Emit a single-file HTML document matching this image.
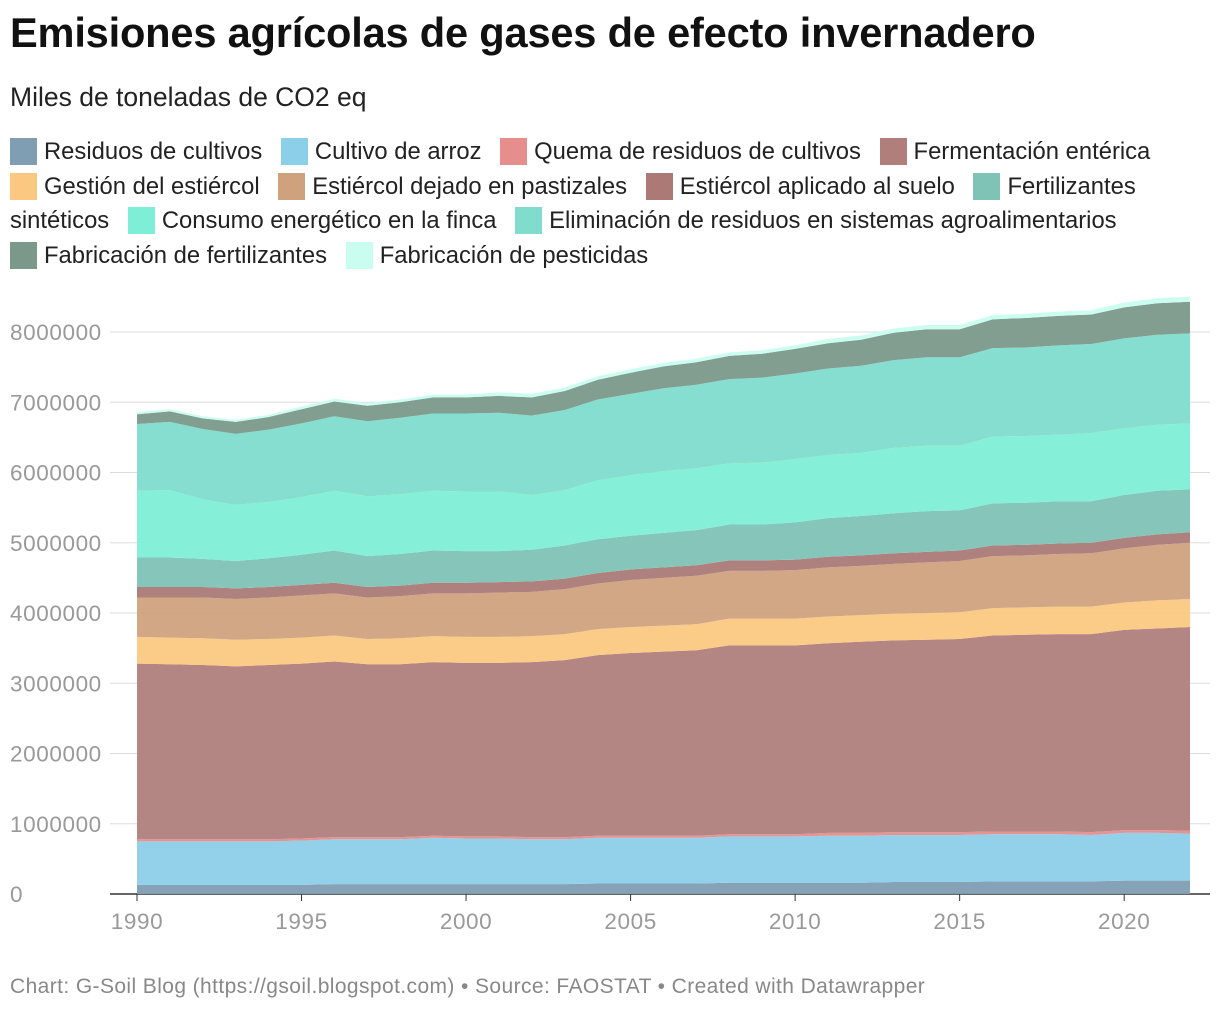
<!DOCTYPE html>
<html><head><meta charset="utf-8">
<style>
body{margin:0;background:#fff;font-family:"Liberation Sans",sans-serif;width:1220px;height:1012px;overflow:hidden;position:relative}
#title{position:absolute;left:10px;top:9px;font-size:41.6px;font-weight:bold;color:#111;letter-spacing:-0.2px;white-space:nowrap}
#sub{position:absolute;left:10px;top:82px;font-size:26.5px;color:#222}
#legend{position:absolute;left:10px;top:135px;width:1210px;font-size:23.8px;color:#222;line-height:34.7px;white-space:nowrap}
.li{margin-right:12px}
.sw{display:inline-block;width:27px;height:27px;vertical-align:-6px;margin-right:7px}
#foot{position:absolute;left:10px;top:975px;font-size:21px;color:#888;letter-spacing:0.4px}
svg{position:absolute;left:0;top:0}
</style></head><body>
<div id="title">Emisiones agrícolas de gases de efecto invernadero</div>
<div id="sub">Miles de toneladas de CO2 eq</div>
<div id="legend"></div>
<svg id="chart" width="1220" height="1012"></svg>
<div id="foot">Chart: G-Soil Blog (https://gsoil.blogspot.com) • Source: FAOSTAT • Created with Datawrapper</div>
<script>
const years=[1990,1991,1992,1993,1994,1995,1996,1997,1998,1999,2000,2001,2002,2003,2004,2005,2006,2007,2008,2009,2010,2011,2012,2013,2014,2015,2016,2017,2018,2019,2020,2021,2022];
const seriesNames=["Residuos de cultivos","Cultivo de arroz","Quema de residuos de cultivos","Fermentación entérica","Gestión del estiércol","Estiércol dejado en pastizales","Estiércol aplicado al suelo","Fertilizantes sintéticos","Consumo energético en la finca","Eliminación de residuos en sistemas agroalimentarios","Fabricación de fertilizantes","Fabricación de pesticidas"];
const residuos=[0.13,0.13,0.13,0.13,0.13,0.13,0.14,0.14,0.14,0.14,0.14,0.14,0.14,0.14,0.15,0.15,0.15,0.15,0.16,0.16,0.16,0.16,0.16,0.17,0.17,0.17,0.18,0.18,0.18,0.18,0.19,0.19,0.19];
const arroz=[0.62,0.62,0.62,0.62,0.62,0.63,0.64,0.64,0.64,0.66,0.65,0.65,0.64,0.64,0.65,0.65,0.65,0.65,0.66,0.66,0.66,0.67,0.67,0.67,0.67,0.67,0.67,0.67,0.67,0.66,0.68,0.68,0.67];
const quema=[0.03,0.03,0.03,0.03,0.03,0.03,0.03,0.03,0.03,0.03,0.03,0.03,0.03,0.03,0.03,0.03,0.03,0.03,0.03,0.03,0.03,0.04,0.04,0.04,0.04,0.04,0.04,0.04,0.04,0.04,0.04,0.04,0.04];
const fermentacion=[2.50,2.49,2.48,2.46,2.48,2.49,2.50,2.46,2.46,2.47,2.47,2.47,2.49,2.52,2.57,2.60,2.62,2.64,2.69,2.69,2.69,2.70,2.72,2.73,2.74,2.75,2.79,2.80,2.81,2.82,2.85,2.87,2.90];
const gestion=[0.38,0.38,0.38,0.38,0.37,0.37,0.37,0.36,0.37,0.37,0.37,0.37,0.37,0.37,0.37,0.37,0.37,0.37,0.38,0.38,0.38,0.38,0.38,0.38,0.38,0.38,0.39,0.39,0.39,0.39,0.39,0.40,0.40];
const pastizales=[0.56,0.57,0.58,0.58,0.59,0.60,0.60,0.59,0.60,0.61,0.62,0.63,0.63,0.64,0.65,0.67,0.68,0.69,0.68,0.68,0.69,0.70,0.70,0.71,0.72,0.73,0.74,0.74,0.75,0.76,0.77,0.79,0.80];
const aplicado=[0.15,0.15,0.15,0.15,0.15,0.15,0.15,0.15,0.15,0.15,0.15,0.15,0.15,0.15,0.15,0.15,0.15,0.15,0.15,0.15,0.15,0.15,0.15,0.15,0.15,0.15,0.15,0.15,0.15,0.15,0.15,0.15,0.15];
const fertSint=[0.42,0.42,0.40,0.39,0.41,0.43,0.46,0.44,0.45,0.46,0.45,0.44,0.45,0.47,0.48,0.48,0.49,0.50,0.51,0.51,0.53,0.55,0.56,0.57,0.58,0.57,0.60,0.60,0.60,0.59,0.61,0.62,0.61];
const consumo=[0.95,0.96,0.85,0.80,0.80,0.82,0.85,0.85,0.85,0.85,0.85,0.85,0.78,0.79,0.84,0.86,0.88,0.88,0.87,0.88,0.90,0.90,0.90,0.93,0.93,0.92,0.95,0.95,0.95,0.97,0.95,0.94,0.94];
const eliminacion=[0.95,0.97,1.00,1.01,1.03,1.05,1.06,1.07,1.09,1.10,1.11,1.12,1.13,1.14,1.15,1.16,1.18,1.19,1.20,1.21,1.22,1.23,1.24,1.25,1.26,1.26,1.26,1.26,1.27,1.27,1.28,1.28,1.28];
const fabFert=[0.14,0.15,0.15,0.17,0.18,0.20,0.21,0.22,0.22,0.23,0.23,0.24,0.26,0.27,0.28,0.30,0.31,0.32,0.33,0.34,0.35,0.36,0.37,0.39,0.40,0.40,0.41,0.42,0.42,0.42,0.44,0.45,0.45];
const pesticidas=[0.03,0.03,0.03,0.03,0.03,0.04,0.04,0.04,0.04,0.04,0.04,0.05,0.05,0.05,0.05,0.05,0.05,0.05,0.05,0.05,0.05,0.06,0.06,0.06,0.06,0.06,0.06,0.06,0.06,0.06,0.07,0.07,0.07];
const yTicks=[0,1000000,2000000,3000000,4000000,5000000,6000000,7000000,8000000];
const xTicks=[1990,1995,2000,2005,2010,2015,2020];
const allSeries=[residuos,arroz,quema,fermentacion,gestion,pastizales,aplicado,fertSint,consumo,eliminacion,fabFert,pesticidas];
const colors=["#7f9db3","#8ccfe8","#e58e8d","#b07f7c","#fbc882","#cfa27e","#ab7a77","#7fc3b6","#7eeed6","#80dccd","#7b998a","#c8fdf0"];
const slugs=["residuos-cultivos","cultivo-arroz","quema-residuos","fermentacion-enterica","gestion-estiercol","estiercol-pastizales","estiercol-aplicado","fertilizantes-sinteticos","consumo-energetico","eliminacion-residuos","fabricacion-fertilizantes","fabricacion-pesticidas"];
const NS="http://www.w3.org/2000/svg";
const svg=document.getElementById('chart');
const x=y=>137+(y-1990)*(1190-137)/32;
const yS=v=>894-v*(894-332)/8000000;
function mk(t,a){const e=document.createElementNS(NS,t);for(const k in a)e.setAttribute(k,a[k]);svg.appendChild(e);return e;}
yTicks.forEach(t=>{
  const l=mk('line',{x1:110,x2:1210,y1:yS(t),y2:yS(t),stroke:t===0?'#333':'#ddd','stroke-width':t===0?1.5:1});
  
  
  const tx=mk('text',{x:10,y:yS(t)+8,'font-size':22.5,fill:'#999','font-family':'Liberation Sans, sans-serif','letter-spacing':'0.6'});
  tx.textContent=t;
  
  
});
xTicks.forEach(t=>{
  const l=mk('line',{x1:x(t),x2:x(t),y1:894,y2:901,stroke:'#333'});
  
  
  const tx=mk('text',{x:x(t),y:929,'font-size':22.5,fill:'#999','text-anchor':'middle','font-family':'Liberation Sans, sans-serif','letter-spacing':'0.6'});
  tx.textContent=t;
  
  
});
let base=years.map(()=>0);
allSeries.forEach((s,i)=>{
  const top=base.map((b,j)=>b+s[j]*1000000);
  let d='M'+years.map((yr,j)=>x(yr)+','+yS(top[j])).join('L');
  for(let j=years.length-1;j>=0;j--)d+='L'+x(years[j])+','+yS(base[j]);
  d+='Z';
  const p=mk('path',{d:d,fill:colors[i],'fill-opacity':0.95});
  
  
  base=top;
});
const lg=document.getElementById('legend');
const breaks={3:1,9:1};
seriesNames.forEach((n,i)=>{
  const s=document.createElement('span');s.className='li';
  
  
  let label=n;
  if(i===7)label='Fertilizantes<br>sintéticos';
  s.innerHTML='<span class="sw" style="background:'+colors[i]+'"></span>'+label;
  lg.appendChild(s);
  if(breaks[i])lg.appendChild(document.createElement('br'));
  else lg.appendChild(document.createTextNode(' '));
});
</script>
</body></html>
